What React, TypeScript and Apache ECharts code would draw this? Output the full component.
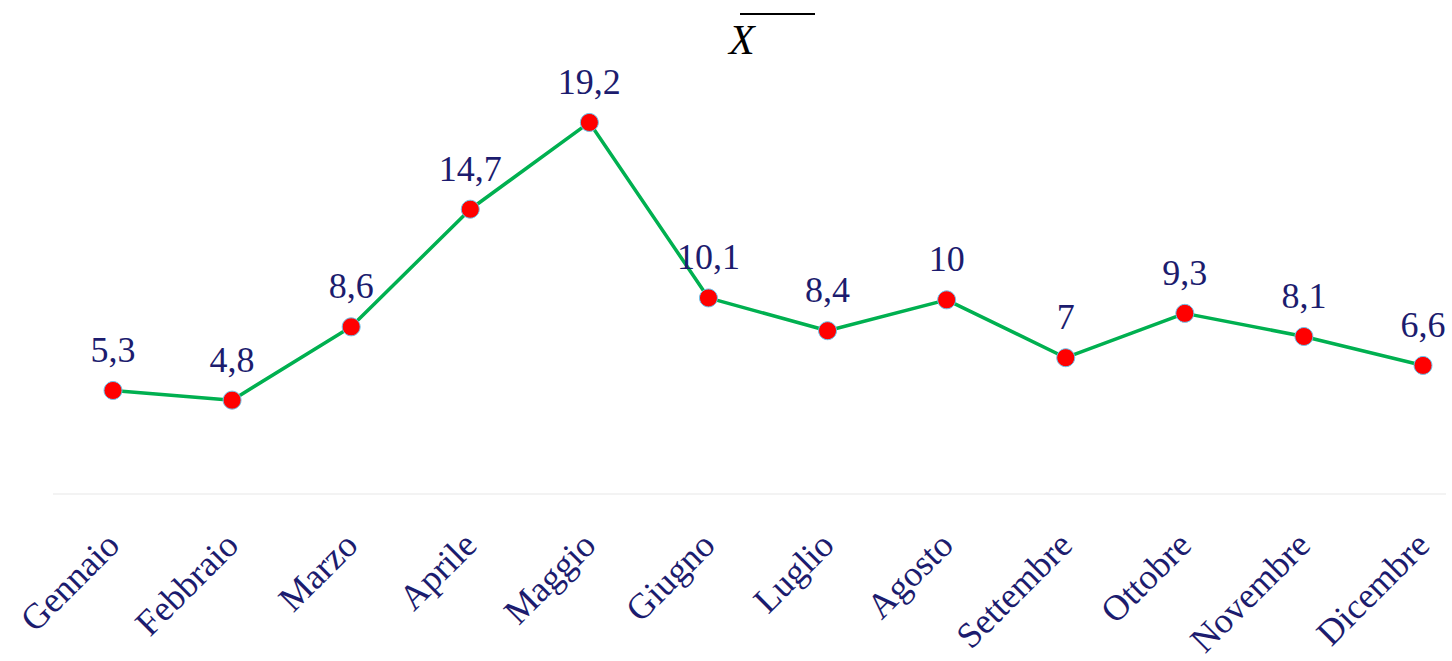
import React, { useEffect, useRef } from "react";
import * as echarts from "echarts";

const months = [
  "Gennaio", "Febbraio", "Marzo", "Aprile", "Maggio", "Giugno",
  "Luglio", "Agosto", "Settembre", "Ottobre", "Novembre", "Dicembre",
];
const values = [5.3, 4.8, 8.6, 14.7, 19.2, 10.1, 8.4, 10, 7, 9.3, 8.1, 6.6];
const titleText = "X";

const NAVY = "#1c1c6e";
const SERIF = "Liberation Serif";

export default function App() {
  const ref = useRef<HTMLDivElement>(null);
  useEffect(() => {
    if (!ref.current) return;
    const chart = echarts.init(ref.current, null, { renderer: "svg" });
    chart.setOption({
      animation: false,
      backgroundColor: "#ffffff",
      title: {
        text: titleText,
        left: 724,
        top: 14,
        textStyle: {
          fontStyle: "italic",
          fontFamily: SERIF,
          fontSize: 42,
          fontWeight: "normal",
          color: "#000000",
        },
      },
      graphic: [
        {
          type: "line",
          shape: { x1: 740, y1: 14, x2: 815, y2: 14 },
          style: { stroke: "#000000", lineWidth: 2 },
        },
        {
          type: "line",
          z: -1,
          shape: { x1: 53, y1: 494, x2: 1446, y2: 494 },
          style: { stroke: "#f3f3f3", lineWidth: 2 },
        },
      ],
      grid: { left: 113, right: 29, top: 107, bottom: 167 },
      xAxis: {
        type: "category",
        data: months,
        boundaryGap: false,
        axisLine: { show: false },
        axisTick: { show: false },
        axisLabel: {
          rotate: 45,
          margin: 46,
          color: NAVY,
          fontFamily: SERIF,
          fontSize: 36,
          interval: 0,
        },
      },
      yAxis: {
        type: "value",
        min: 0,
        max: 20,
        show: false,
        splitLine: { show: false },
      },
      series: [
        {
          type: "line",
          data: values,
          symbol: "circle",
          symbolSize: 18,
          lineStyle: { color: "#00b050", width: 3.5 },
          itemStyle: { color: "#ff0000", borderColor: "#6cc6ee", borderWidth: 1 },
          label: {
            show: true,
            position: "top",
            distance: 13,
            color: NAVY,
            fontFamily: SERIF,
            fontSize: 36,
            formatter: (p: any) => String(p.value).replace(".", ","),
          },
        },
      ],
    });
    return () => chart.dispose();
  }, []);
  return (
    <div
      ref={ref}
      style={{ position: "fixed", left: 0, top: 0, width: 1452, height: 661 }}
    />
  );
}
